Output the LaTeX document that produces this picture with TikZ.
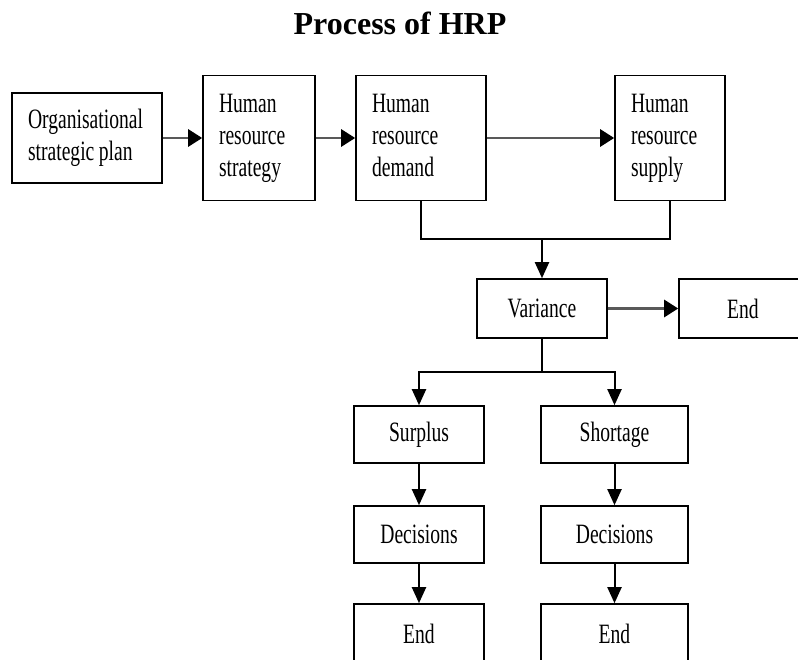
\documentclass[tikz,border=0pt]{standalone}
\usepackage{fontspec}
\setmainfont{Liberation Serif}
\newfontfamily\nodefont[FakeStretch=0.7]{Liberation Serif}
\usetikzlibrary{arrows.meta}
\begin{document}
\begin{tikzpicture}[x=1pt,y=-1pt,
  box/.style={draw, line width=1.6pt, inner sep=0pt, font=\nodefont\fontsize{28}{32}\selectfont},
  lbox/.style={box, align=left},
  cbox/.style={box, align=center},
  link/.style={line width=2pt, black},
  varrow/.style={link, -{Triangle[length=16pt,width=14pt]}},
  harrow/.style={line width=2.8pt, black!65, -{Triangle[length=14pt,width=17pt,fill=black,color=black]}}
]
\useasboundingbox (0,0) rectangle (798,660);
\clip (0,0) rectangle (798,660);

% title
\node[font=\bfseries\fontsize{32}{36}\selectfont, anchor=base] (title) at (400,35) {Process of HRP};

% top row
\node[lbox, minimum width=150pt, minimum height=90pt, text width=118pt] (b1) at (87,138) {Organisational\\strategic\hspace{4.5pt}plan};
\node[lbox, minimum width=112pt, minimum height=125pt, text width=80pt] (b2) at (259,138) {Human\\resource\\strategy};
\node[lbox, minimum width=130pt, minimum height=125pt, text width=98pt] (b3) at (421,138) {Human\\resource\\demand\vphantom{y}};
\node[lbox, minimum width=110pt, minimum height=125pt, text width=78pt] (b4) at (670,138) {Human\\resource\\supply};

% variance row
\node[cbox, minimum width=130pt, minimum height=59pt] (var) at (542,308.5) {Variance};
\node[cbox, minimum width=128pt, minimum height=59pt] (end1) at (743,308.5) {End};

% branches
\node[cbox, minimum width=130pt, minimum height=57pt] (sur) at (419,434.5) {Surplus};
\node[cbox, minimum width=130pt, minimum height=57pt] (dec1) at (419,534.5) {Decisions};
\node[cbox, minimum width=130pt, minimum height=59pt] (endL) at (419,633.5) {End};
\node[cbox, minimum width=147pt, minimum height=57pt] (sho) at (614.5,434.5) {Shortage};
\node[cbox, minimum width=147pt, minimum height=57pt] (dec2) at (614.5,534.5) {Decisions};
\node[cbox, minimum width=147pt, minimum height=59pt] (endR) at (614.5,633.5) {End};

% connectors
\draw[harrow] (b1) -- (b2);
\draw[harrow] (b2) -- (b3);
\draw[harrow] (b3) -- (b4);
\draw[harrow] (var) -- (end1);

\coordinate (j1) at (542,239);
\coordinate (j2) at (542,372);
\draw[link] (b3.south) |- (j1) -| (b4.south);
\draw[varrow] (j1) -- (var.north);
\draw[link] (var.south) -- (j2);
\draw[varrow] (j2) -| (sur.north);
\draw[varrow] (j2) -| (sho.north);
\draw[varrow] (sur) -- (dec1);
\draw[varrow] (dec1) -- (endL);
\draw[varrow] (sho) -- (dec2);
\draw[varrow] (dec2) -- (endR);
\end{tikzpicture}
\end{document}
